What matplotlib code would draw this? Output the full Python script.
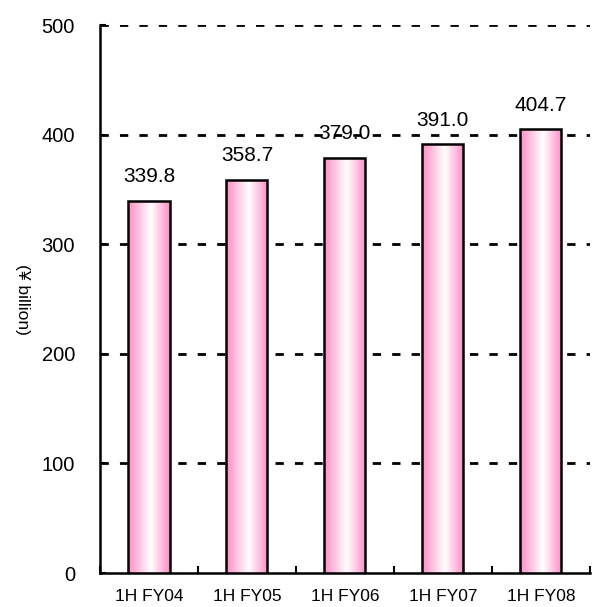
import numpy as np
import matplotlib.pyplot as plt
from matplotlib.colors import LinearSegmentedColormap

categories = ["1H FY04", "1H FY05", "1H FY06", "1H FY07", "1H FY08"]
values = [339.8, 358.7, 379.0, 391.0, 404.7]

plt.rcParams['font.family'] = ['Liberation Sans', 'DejaVu Sans']

fig = plt.figure(figsize=(5.93, 6.07), dpi=100)
ax = fig.add_axes([0.1686, 0.056, 0.826, 0.9028])

x = np.arange(len(categories))
width = 0.42
bars = ax.bar(x, values, width=width, facecolor='none', edgecolor='black', linewidth=1.8, zorder=4)

pink = LinearSegmentedColormap.from_list('pinkgrad', [(0, '#ff8cc6'), (0.55, '#ffffff'), (1, '#ff8cc6')])
grad = np.linspace(0, 1, 256).reshape(1, -1)
for b in bars:
    x0, w, h = b.get_x(), b.get_width(), b.get_height()
    im = ax.imshow(grad, cmap=pink, aspect='auto', extent=[x0, x0 + w, 0, h], zorder=3)
    im.set_clip_path(b)

for xi, v in zip(x, values):
    ax.text(xi, v + 17, f"{v:.1f}", ha='center', va='baseline', fontsize=15, zorder=1)

ax.set_xlim(-0.5, len(categories) - 0.5)
ax.set_ylim(0, 500)
ax.set_yticks(np.arange(0, 501, 100))
for yv in range(100, 501, 100):
    ax.axhline(yv, color='black', linestyle=(0, (3, 4)), linewidth=2, zorder=2)

ax.set_xticks(x)
ax.set_xticklabels(categories, fontsize=12.5)
ax.set_xticks(np.arange(-0.5, len(categories), 1), minor=True)
ax.tick_params(axis='x', which='major', length=0, pad=11.5)
ax.tick_params(axis='x', which='minor', direction='in', length=5, width=1.5)
ax.tick_params(axis='y', direction='in', length=4, width=1.5, labelsize=14.5, pad=18)

for s in ['top', 'right']:
    ax.spines[s].set_visible(False)
for s in ['left', 'bottom']:
    ax.spines[s].set_linewidth(1.8)

ax.set_ylabel("(¥ billion)", rotation=270, fontsize=12.5, va='center')
ax.yaxis.set_label_coords(-0.158, 0.5)

fig.savefig("out.png", dpi=100)
